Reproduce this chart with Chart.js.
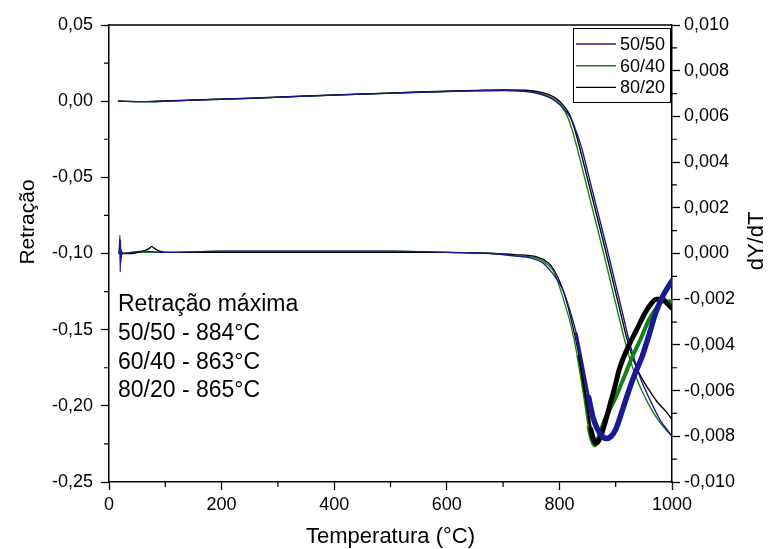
<!DOCTYPE html>
<html>
<head>
<meta charset="utf-8">
<script src="https://cdn.jsdelivr.net/npm/chart.js@4.4.1/dist/chart.umd.min.js"></script>
<style>
  html, body { margin: 0; padding: 0; background: #fff; }
</style>
</head>
<body>
<canvas id="chart" width="771" height="549"></canvas>
<script>
// retraction curves (left axis)
const tRetr5050 = [16, 60, 100, 150, 250, 350, 450, 550, 650, 700, 740, 760, 780, 795, 808, 820, 830, 839, 854, 869, 884, 899, 914, 923, 932, 942, 952, 966, 980, 992, 1000]
const retr5050 = [0, -0.0003, 0.0000, 0.0007, 0.0018, 0.0033, 0.0046, 0.0058, 0.0068, 0.0070, 0.0063, 0.0052, 0.0028, -0.0005, -0.005, -0.011, -0.020, -0.030, -0.052, -0.074, -0.096, -0.119, -0.142, -0.156, -0.168, -0.180, -0.189, -0.200, -0.210, -0.216, -0.220]

const tRetr6040 = [16, 60, 100, 150, 250, 350, 450, 550, 650, 700, 740, 760, 780, 795, 805, 813, 822, 831, 846, 861, 876, 891, 906, 916, 925, 935, 945, 960, 975, 990, 1000]
const retr6040 = [0, -0.0003, 0.0000, 0.0007, 0.0018, 0.0033, 0.0046, 0.0059, 0.0069, 0.0072, 0.0068, 0.0058, 0.0033, 0.0000, -0.004, -0.009, -0.018, -0.030, -0.052, -0.074, -0.096, -0.119, -0.142, -0.157, -0.169, -0.180, -0.189, -0.200, -0.209, -0.216, -0.220]

const tRetr8020 = [16, 60, 100, 150, 250, 350, 450, 550, 650, 700, 740, 760, 780, 795, 805, 817, 826, 835, 850, 865, 880, 895, 910, 920, 928, 936, 945, 960, 975, 990, 1000]
const retr8020 = [0, -0.0003, 0.0001, 0.0008, 0.0019, 0.0034, 0.0047, 0.0060, 0.0070, 0.0074, 0.0072, 0.0064, 0.0045, 0.0015, -0.002, -0.008, -0.017, -0.029, -0.051, -0.073, -0.095, -0.118, -0.141, -0.156, -0.166, -0.174, -0.181, -0.190, -0.198, -0.204, -0.209]

// derivative curves (right axis)
const tDer5050 = [18, 19.5, 20, 20.5, 21, 22, 25, 40, 60, 100, 200, 300, 400, 500, 600, 680, 720, 750, 770, 782, 795, 808, 820, 830, 838, 845, 852, 860, 868, 876, 884, 892, 900, 910, 918, 932, 947, 960, 971, 985, 1000]
const der5050 = [0, 0.0008, -0.0008, 0.0006, -0.0004, 0.0001, 0, 0.00005, 0.0001, 0.00005, 0.0001, 0.0001, 0.0001, 0.0001, 0.00005, 0, -0.0001, -0.0002, -0.0004, -0.0007, -0.0011, -0.0017, -0.0026, -0.0035, -0.0045, -0.0054, -0.0063, -0.0072, -0.0077, -0.0080, -0.0081, -0.0080, -0.0077, -0.0070, -0.0064, -0.0054, -0.0045, -0.0035, -0.0026, -0.0018, -0.0012]

const tDer6040 = [18, 19.5, 20, 21, 23, 40, 100, 200, 300, 400, 500, 600, 680, 720, 760, 780, 790, 802, 812, 820, 832, 844, 852, 858, 863, 870, 880, 890, 900, 915, 930, 945, 959, 972, 983, 1000]
const der6040 = [0, 0.0005, -0.0004, 0.0002, 0, 0.00005, 0.00005, 0.0001, 0.0001, 0.0001, 0.0001, 0.00005, 0, -0.0001, -0.0002, -0.0005, -0.0008, -0.0016, -0.0024, -0.0031, -0.0045, -0.0063, -0.0076, -0.0082, -0.0084, -0.0080, -0.0073, -0.0068, -0.0063, -0.0054, -0.0045, -0.0037, -0.0029, -0.0024, -0.0021, -0.0021]

const tDer8020 = [18, 20, 21, 23, 40, 60, 70, 76, 82, 90, 100, 200, 300, 400, 500, 600, 680, 720, 760, 780, 790, 805, 815, 823, 835, 847, 856, 865, 872, 880, 890, 900, 906, 920, 936, 950, 960, 972, 983, 992, 1000]
const der8020 = [0, 0.0003, -0.0002, 0, 0, 0.0001, 0.0002, 0.0003, 0.0002, 0.0001, 0.00005, 0.00005, 0.00005, 0.00005, 0.00005, 0.00005, 0, -0.00005, -0.00015, -0.0004, -0.0007, -0.0015, -0.0023, -0.0031, -0.0045, -0.0063, -0.0077, -0.0083, -0.0081, -0.0075, -0.0066, -0.0057, -0.0051, -0.0042, -0.0034, -0.0027, -0.0023, -0.0020, -0.0020, -0.0022, -0.0024]

const seriesNames = ['50/50', '60/40', '80/20']
const seriesColors = ['#1a1a94', '#138413', '#000000']

const tempTicks = [0, 200, 400, 600, 800, 1000]
const tempMinor = [100, 300, 500, 700, 900]
const retrTicks = [-0.25, -0.20, -0.15, -0.10, -0.05, 0.00, 0.05]
const retrTickLabels = ['-0,25', '-0,20', '-0,15', '-0,10', '-0,05', '0,00', '0,05']
const retrMinor = [-0.225, -0.175, -0.125, -0.075, -0.025, 0.025]
const derivTicks = [-0.010, -0.008, -0.006, -0.004, -0.002, 0.000, 0.002, 0.004, 0.006, 0.008, 0.010]
const derivTickLabels = ['-0,010', '-0,008', '-0,006', '-0,004', '-0,002', '0,000', '0,002', '0,004', '0,006', '0,008', '0,010']
const derivMinor = [-0.009, -0.007, -0.005, -0.003, -0.001, 0.001, 0.003, 0.005, 0.007, 0.009]

const maxRetraction = ['Retração máxima', '50/50 - 884°C', '60/40 - 863°C', '80/20 - 865°C']

const FONT = "'Liberation Sans', Arial, sans-serif"

const toPoints = (xs, ys) => xs.map((x, i) => ({ x, y: ys[i] }))

// the derivative signal is noisy above ~830 °C, drawn as a thicker band
const noisyWidth = (full) => ctx => {
  const x = ctx.p0.parsed.x
  if (x < 828) return 1.3
  if (x < 848) return full * 0.5
  return full
}

const retrSet = (label, xs, ys, color, order) => ({
  label, data: toPoints(xs, ys), yAxisID: 'y',
  borderColor: color, borderWidth: 1.4, pointRadius: 0,
  cubicInterpolationMode: 'monotone', order
})

const derivSet = (label, xs, ys, color, order, band) => ({
  label, data: toPoints(xs, ys), yAxisID: 'y1',
  borderColor: color, borderWidth: 1.3, pointRadius: 0,
  cubicInterpolationMode: 'monotone', order,
  borderJoinStyle: 'round', borderCapStyle: 'round',
  segment: { borderWidth: noisyWidth(band) }
})

const datasets = [
  derivSet('50/50', tDer5050, der5050, seriesColors[0], 0, 5.5),
  derivSet('80/20', tDer8020, der8020, seriesColors[2], 1, 5),
  derivSet('60/40', tDer6040, der6040, seriesColors[1], 2, 4),
  retrSet('50/50', tRetr5050, retr5050, seriesColors[0], 3),
  retrSet('80/20', tRetr8020, retr8020, seriesColors[2], 4),
  retrSet('60/40', tRetr6040, retr6040, seriesColors[1], 5)
]

const axisGrid = { display: true, drawOnChartArea: false, drawTicks: true, tickLength: 8, tickColor: '#000', tickWidth: 1.3 }
const axisBorder = { display: true, color: '#000', width: 1.5 }
const tickFont = { family: FONT, size: 18 }

const decorations = {
  id: 'decorations',
  afterDraw(chart) {
    const { ctx, chartArea: a, scales } = chart
    ctx.save()

    // top frame line
    ctx.strokeStyle = '#000'
    ctx.lineWidth = 1.5
    ctx.beginPath()
    ctx.moveTo(a.left, a.top)
    ctx.lineTo(a.right, a.top)
    ctx.stroke()

    // minor ticks
    ctx.lineWidth = 1.2
    ctx.beginPath()
    tempMinor.forEach(v => {
      const x = scales.x.getPixelForValue(v)
      ctx.moveTo(x, a.bottom)
      ctx.lineTo(x, a.bottom + 5)
    })
    retrMinor.forEach(v => {
      const y = scales.y.getPixelForValue(v)
      ctx.moveTo(a.left, y)
      ctx.lineTo(a.left - 5, y)
    })
    derivMinor.forEach(v => {
      const y = scales.y1.getPixelForValue(v)
      ctx.moveTo(a.right, y)
      ctx.lineTo(a.right + 5, y)
    })
    ctx.stroke()

    // axis titles
    ctx.fillStyle = '#000'
    ctx.textAlign = 'center'
    ctx.textBaseline = 'middle'
    ctx.font = `22px ${FONT}`
    ctx.fillText('Temperatura (°C)', (a.left + a.right) / 2, 537)

    ctx.save()
    ctx.translate(28, 222)
    ctx.rotate(-Math.PI / 2)
    ctx.font = `21px ${FONT}`
    ctx.fillText('Retração', 0, 0)
    ctx.restore()

    ctx.save()
    ctx.translate(757, 241)
    ctx.rotate(-Math.PI / 2)
    ctx.font = `22px ${FONT}`
    ctx.fillText('dY/dT', 0, 0)
    ctx.restore()

    // legend box
    const bx = a.right - 99, by = a.top + 3, bw = 97, bh = 74
    ctx.lineWidth = 1
    ctx.strokeStyle = '#000'
    ctx.strokeRect(bx + 0.5, by + 0.5, bw, bh)
    ctx.font = `18px ${FONT}`
    ctx.textAlign = 'left'
    seriesNames.forEach((name, i) => {
      const y = by + 16 + i * 21.7
      ctx.strokeStyle = seriesColors[i]
      ctx.lineWidth = 1.4
      ctx.beginPath()
      ctx.moveTo(bx + 3, y)
      ctx.lineTo(bx + 43, y)
      ctx.stroke()
      ctx.fillStyle = '#000'
      ctx.fillText(name, bx + 47, y + 1)
    })

    // maximum retraction note
    ctx.font = `23px ${FONT}`
    ctx.textBaseline = 'alphabetic'
    const baselines = [311, 340, 369, 397]
    maxRetraction.forEach((line, i) => ctx.fillText(line, a.left + 9, baselines[i]))

    ctx.restore()
  }
}

new Chart(document.getElementById('chart'), {
  type: 'line',
  data: { datasets },
  options: {
    responsive: false,
    animation: false,
    layout: { padding: { top: 25, left: 0, right: 0, bottom: 0 } },
    plugins: { legend: { display: false }, tooltip: { enabled: false } },
    scales: {
      x: {
        type: 'linear', min: 0, max: 1000,
        afterBuildTicks: s => { s.ticks = tempTicks.map(v => ({ value: v })) },
        afterFit: s => { s.height = 67 },
        ticks: { font: tickFont, color: '#000', padding: 4, maxRotation: 0, callback: v => String(v) },
        grid: axisGrid, border: axisBorder
      },
      y: {
        type: 'linear', position: 'left', min: -0.25, max: 0.05,
        afterBuildTicks: s => { s.ticks = retrTicks.map(v => ({ value: v })) },
        afterFit: s => { s.width = 109 },
        ticks: { font: tickFont, color: '#000', padding: 8, callback: (v, i) => retrTickLabels[i] },
        grid: axisGrid, border: axisBorder
      },
      y1: {
        type: 'linear', position: 'right', min: -0.010, max: 0.010,
        afterBuildTicks: s => { s.ticks = derivTicks.map(v => ({ value: v })) },
        afterFit: s => { s.width = 99 },
        ticks: { font: tickFont, color: '#000', padding: 4, callback: (v, i) => derivTickLabels[i] },
        grid: axisGrid, border: axisBorder
      }
    }
  },
  plugins: [decorations]
})
</script>
</body>
</html>
